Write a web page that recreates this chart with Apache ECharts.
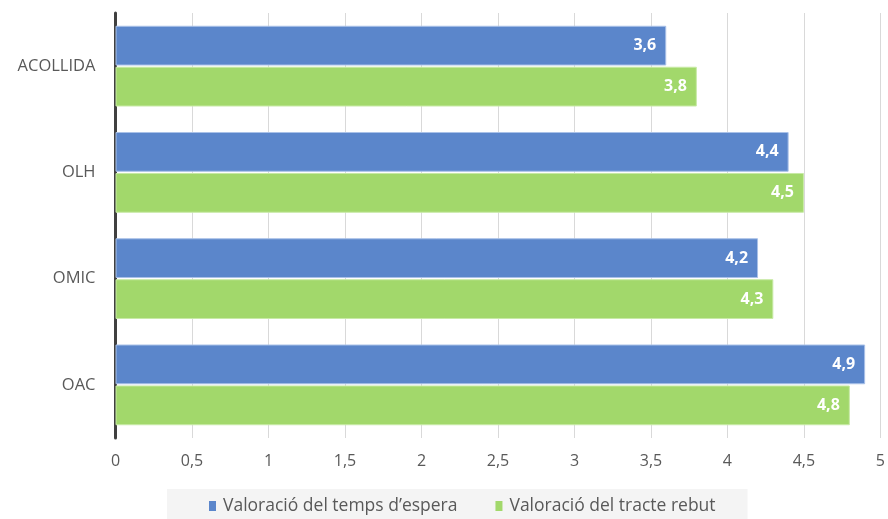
<!DOCTYPE html>
<html>
<head>
<meta charset="utf-8">
<script src="https://cdn.jsdelivr.net/npm/echarts@6/dist/echarts.min.js"></script>
<style>
  html, body { margin: 0; padding: 0; background: #ffffff; }
  #chart { width: 888px; height: 519px; }
</style>
</head>
<body>
<div id="chart"></div>
<script>
// Service categories, listed top to bottom
const categories = ['ACOLLIDA', 'OLH', 'OMIC', 'OAC'];
// Average ratings per service
const waitRating = [3.6, 4.4, 4.2, 4.9];
const treatRating = [3.8, 4.5, 4.3, 4.8];
const seriesNames = ['Valoració del temps d\u2019espera', 'Valoració del tracte rebut'];
const xTicks = [0, 0.5, 1, 1.5, 2, 2.5, 3, 3.5, 4, 4.5, 5];

const FONT = '"Open Sans", sans-serif';
const fmt = v => String(v).replace('.', ',');

const chart = echarts.init(document.getElementById('chart'), null, { renderer: 'canvas' });

const labelStyle = {
  show: true,
  position: 'insideRight',
  distance: 10,
  color: '#ffffff',
  fontFamily: FONT,
  fontSize: 16,
  fontWeight: 'bold',
  formatter: p => fmt(p.value)
};

chart.setOption({
  animation: false,
  textStyle: { fontFamily: FONT },
  grid: { left: 115.5, right: 2.5, top: 13, bottom: 81, containLabel: false },
  xAxis: {
    type: 'value',
    min: xTicks[0],
    max: xTicks[xTicks.length - 1],
    interval: 0.5,
    axisLine: { show: false },
    axisTick: { show: false },
    splitLine: { show: true, lineStyle: { color: '#d9d9d9', width: 1 } },
    axisLabel: {
      color: '#595959',
      fontSize: 16,
      fontFamily: FONT,
      margin: 15,
      formatter: v => fmt(v)
    }
  },
  yAxis: {
    type: 'category',
    data: categories,
    inverse: true,
    axisLine: { show: true, lineStyle: { color: '#404040', width: 3 } },
    axisTick: { show: false },
    axisLabel: { color: '#595959', fontSize: 16.5, fontFamily: FONT, margin: 20 }
  },
  legend: {
    data: seriesNames,
    icon: 'rect',
    top: 489,
    left: 167,
    itemWidth: 7,
    itemHeight: 10,
    itemGap: 38,
    padding: [8, 32, 20, 42],
    backgroundColor: '#f4f4f4',
    itemStyle: { borderWidth: 0 },
    textStyle: { color: '#595959', fontSize: 17.5, fontFamily: FONT, padding: [0, 0, 0, 2] }
  },
  series: [
    {
      name: seriesNames[0],
      type: 'bar',
      data: waitRating,
      barCategoryGap: '24%',
      barGap: '3%',
      itemStyle: { color: '#5b86cb', borderColor: '#a9c1e8', borderWidth: 1 },
      label: labelStyle
    },
    {
      name: seriesNames[1],
      type: 'bar',
      data: treatRating,
      barCategoryGap: '24%',
      barGap: '3%',
      itemStyle: { color: '#a2d86b', borderColor: '#c8eaa6', borderWidth: 1 },
      label: labelStyle
    }
  ]
});
</script>
</body>
</html>
